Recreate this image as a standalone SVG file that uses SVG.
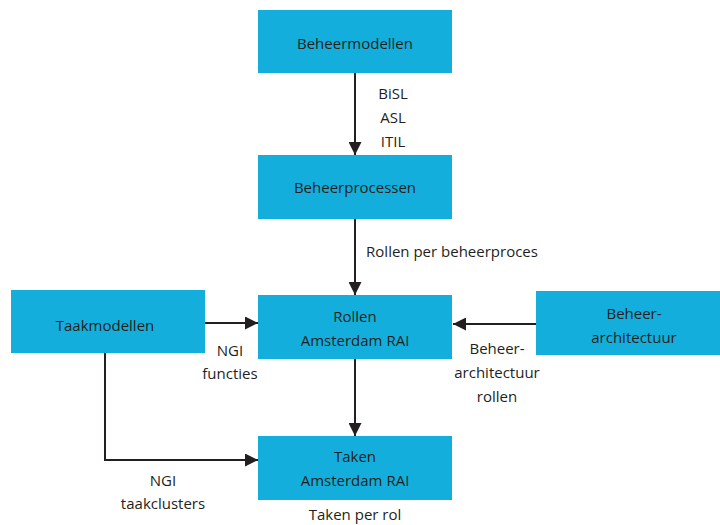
<svg xmlns="http://www.w3.org/2000/svg" width="720" height="525" viewBox="0 0 720 525">
<style>
.box{fill:#13AEDC}
.t{font-family:"Open Sans","Liberation Sans",sans-serif;font-size:15px;fill:#231F20;text-anchor:middle;dominant-baseline:central}
.c{stroke:#231F20;stroke-width:2;fill:none}
</style>
<defs>
<marker id="ah" viewBox="0 0 12 12" refX="12" refY="6" markerWidth="13" markerHeight="13" markerUnits="userSpaceOnUse" orient="auto">
<path d="M0,0 L12,6 L0,12 Z" fill="#231F20"/>
</marker>
</defs>
<rect width="720" height="525" fill="#fff"/>
<g id="connectors">
<line class="c" x1="355" y1="73" x2="355" y2="155" marker-end="url(#ah)"/>
<line class="c" x1="355" y1="219" x2="355" y2="295" marker-end="url(#ah)"/>
<line class="c" x1="355" y1="359" x2="355" y2="436" marker-end="url(#ah)"/>
<line class="c" x1="205" y1="323" x2="258" y2="323" marker-end="url(#ah)"/>
<polyline class="c" points="105,353 105,460 258,460" marker-end="url(#ah)"/>
<line class="c" x1="536" y1="324" x2="453" y2="324" marker-end="url(#ah)"/>
<text class="t" x="393" y="93">BiSL</text>
<text class="t" x="393" y="117">ASL</text>
<text class="t" x="393" y="141">ITIL</text>
<text class="t" x="452" y="251">Rollen per beheerproces</text>
<text class="t" x="230" y="350">NGI</text>
<text class="t" x="230" y="373">functies</text>
<text class="t" x="163" y="480">NGI</text>
<text class="t" x="163" y="503">taakclusters</text>
<text class="t" x="497" y="348">Beheer-</text>
<text class="t" x="497" y="372">architectuur</text>
<text class="t" x="497" y="396">rollen</text>
<text class="t" x="355" y="514">Taken per rol</text>
</g>
<g id="beheermodellen"><rect class="box" x="258" y="10" width="194" height="63"/><text class="t" x="355" y="43">Beheermodellen</text></g>
<g id="beheerprocessen"><rect class="box" x="258" y="155" width="194" height="64"/><text class="t" x="355" y="187">Beheerprocessen</text></g>
<g id="taakmodellen"><rect class="box" x="11" y="290" width="194" height="63"/><text class="t" x="105" y="325">Taakmodellen</text></g>
<g id="rollen"><rect class="box" x="258" y="295" width="194" height="64"/><text class="t" x="355" y="316">Rollen</text><text class="t" x="355" y="340">Amsterdam RAI</text></g>
<g id="beheerarchitectuur"><rect class="box" x="536" y="291" width="184" height="64"/><text class="t" x="634" y="313">Beheer-</text><text class="t" x="634" y="337">architectuur</text></g>
<g id="taken"><rect class="box" x="258" y="436" width="194" height="64"/><text class="t" x="355" y="456">Taken</text><text class="t" x="355" y="480">Amsterdam RAI</text></g>
</svg>
